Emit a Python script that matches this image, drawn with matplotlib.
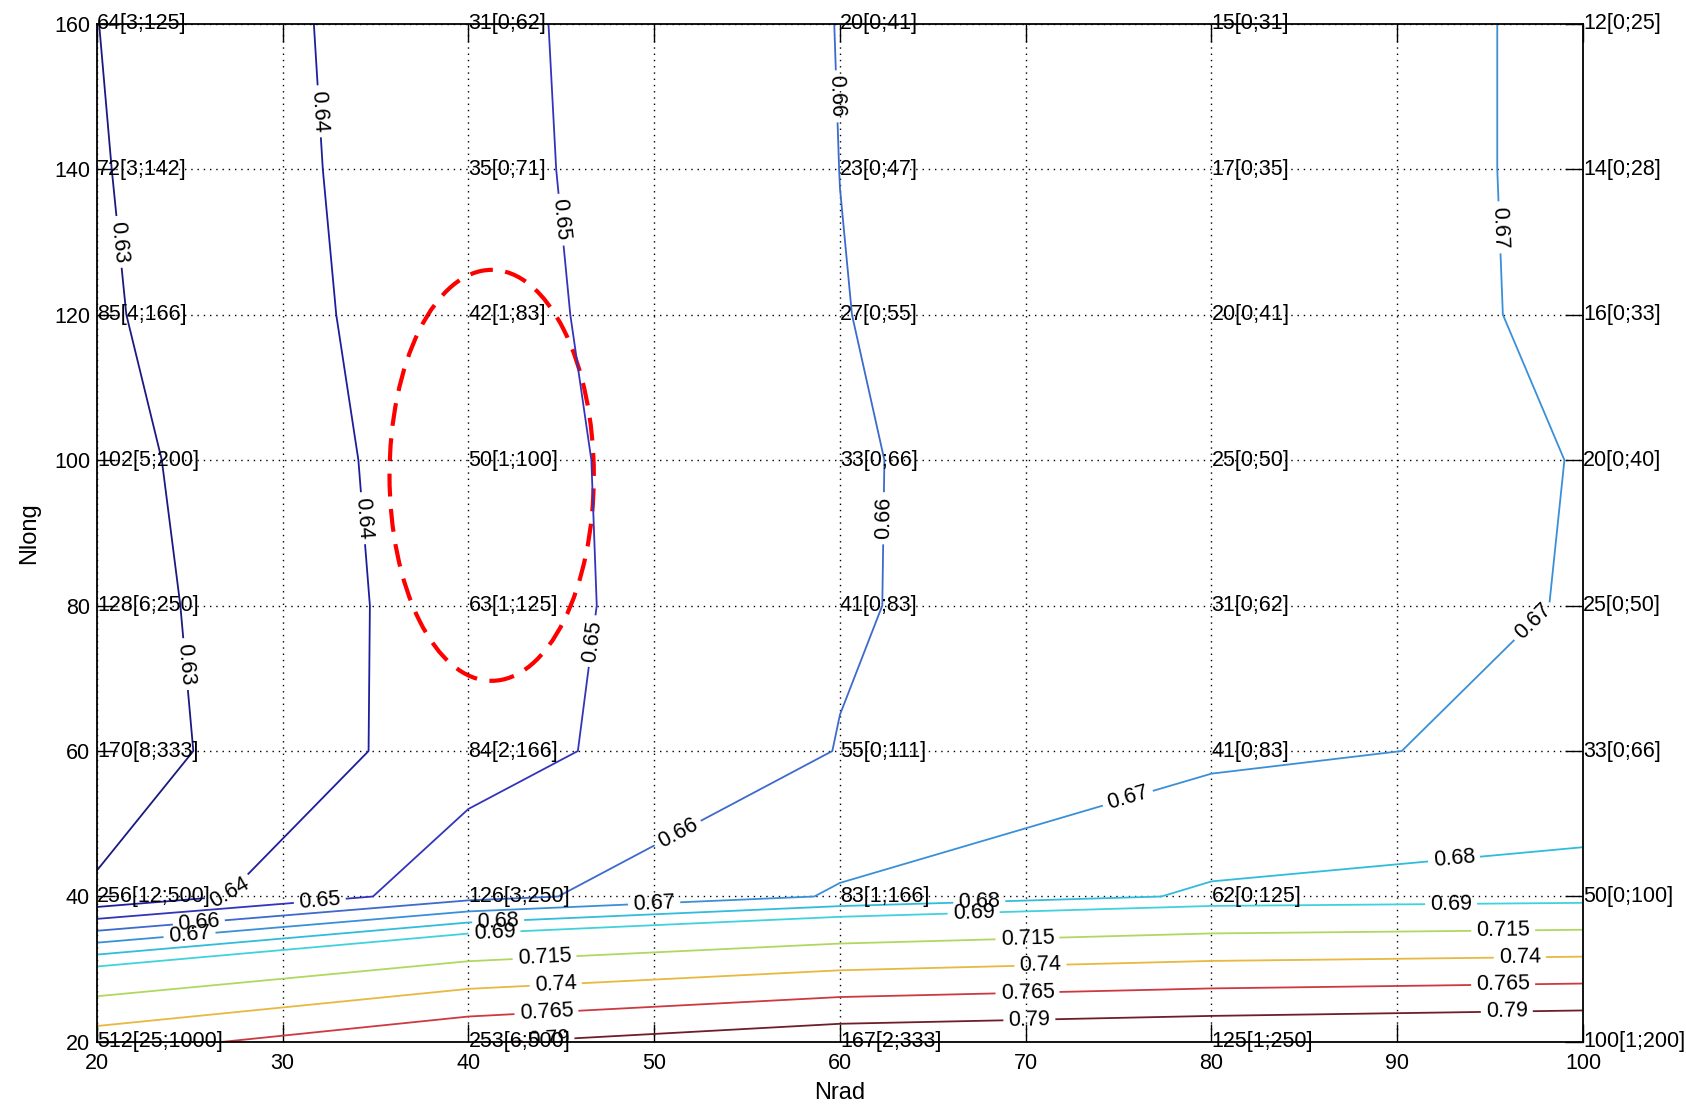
import numpy as np
import matplotlib
matplotlib.use('Agg')
import matplotlib.pyplot as plt
from matplotlib.patches import Ellipse
from matplotlib import font_manager

# ---------------- data ----------------
nrad = [20, 40, 60, 80, 100]
nlong = [20, 40, 60, 80, 100, 120, 140, 160]

# Z values at (nlong row, nrad column)
z_20 = [0.7534, 0.7880, 0.8070, 0.8137, 0.8193]
z_40 = [0.6312, 0.6565, 0.6710, 0.6814, 0.6841]
z_60 = [0.6245, 0.6457, 0.6603, 0.6679, 0.6720]
z_80 = [0.6256, 0.6452, 0.6591, 0.6670, 0.6703]
z_100 = [0.6267, 0.6456, 0.6589, 0.6681, 0.6701]
z_120 = [0.6286, 0.6463, 0.6598, 0.6660, 0.6711]
z_140 = [0.6293, 0.6469, 0.66003, 0.6660, 0.6712]
z_160 = [0.6299, 0.6472, 0.6602, 0.6660, 0.6712]

levels = [0.63, 0.64, 0.65, 0.66, 0.67, 0.68, 0.69, 0.715, 0.74, 0.765, 0.79]

# node annotations, per Nrad column, Nlong ascending (20 -> 160)
text_20 = ["512[25;1000]", "256[12;500]", "170[8;333]", "128[6;250]",
           "102[5;200]", "85[4;166]", "72[3;142]", "64[3;125]"]
text_40 = ["253[6;500]", "126[3;250]", "84[2;166]", "63[1;125]",
           "50[1;100]", "42[1;83]", "35[0;71]", "31[0;62]"]
text_60 = ["167[2;333]", "83[1;166]", "55[0;111]", "41[0;83]",
           "33[0;66]", "27[0;55]", "23[0;47]", "20[0;41]"]
text_80 = ["125[1;250]", "62[0;125]", "41[0;83]", "31[0;62]",
           "25[0;50]", "20[0;41]", "17[0;35]", "15[0;31]"]
text_100 = ["100[1;200]", "50[0;100]", "33[0;66]", "25[0;50]",
            "20[0;40]", "16[0;33]", "14[0;28]", "12[0;25]"]

# ---------------- style ----------------
level_colors = ['#1a1a80', '#1e1e9c', '#3434bb', '#3d6acc', '#3a90d8',
                '#30bcdc', '#40d2dc', '#b0d860', '#e8b840', '#cc3a40',
                '#6e1e28']

names = {f.name for f in font_manager.fontManager.ttflist}
if 'Liberation Sans Narrow' in names:
    fam = 'Liberation Sans Narrow'
    fs = 18
else:
    fam = 'Liberation Sans'
    fs = 15.5
plt.rcParams['font.family'] = [fam, 'DejaVu Sans']

fig = plt.figure(figsize=(16.86, 11.15), dpi=100)
ax = fig.add_axes([0.0575, 0.0655, 0.8814, 0.9133])

Z = np.array([z_20, z_40, z_60, z_80, z_100, z_120, z_140, z_160])
X, Y = np.meshgrid(nrad, nlong)

cs = ax.contour(X, Y, Z, levels=levels, colors=level_colors, linewidths=1.3)

label_pos = [
    (21.2, 130), (25.0, 72),
    (32.3, 148), (34.3, 92), (27.0, 40.8),
    (44.8, 133), (47.0, 75), (32.0, 39.3),
    (59.8, 150), (62.3, 92), (51.0, 50), (25.5, 36.0),
    (95.6, 132), (97.3, 77.8), (75.5, 53.5), (50.0, 38.9), (25.0, 34.2),
    (93.1, 44.0), (67.5, 39.3), (41.6, 36.5),
    (92.9, 38.9), (67.2, 37.6), (41.4, 35.0),
    (95.7, 35.3), (70.1, 33.6), (44.1, 31.5),
    (96.6, 31.6), (70.8, 29.9), (44.7, 27.9),
    (95.7, 28.0), (70.1, 26.3), (44.2, 23.9),
    (95.9, 24.2), (70.2, 22.6), (44.3, 20.7),
]
ax.clabel(cs, inline=True, fmt='%g', fontsize=fs, colors='k',
          manual=label_pos, inline_spacing=5)

ax.set_xlim(20, 100)
ax.set_ylim(20, 160)
ax.set_xticks(range(20, 101, 10))
ax.set_yticks(range(20, 161, 20))
ax.grid(True, color='k', linestyle=(0, (1, 3.5)), linewidth=1.0)
ax.tick_params(direction='in', length=13, width=1.0, top=True, right=True,
               labelsize=fs, pad=5)
ax.tick_params(axis='x', pad=8)
for sp in ax.spines.values():
    sp.set_linewidth(1.3)

for xcol, texts in zip(nrad, [text_20, text_40, text_60, text_80, text_100]):
    for yrow, s in zip(nlong, texts):
        ax.text(xcol, yrow, s, ha='left', va='center', fontsize=fs,
                clip_on=False, color='k')

ax.add_patch(Ellipse((41.25, 97.9), width=11.0, height=56.5, fill=False,
                     edgecolor='red', linestyle=(0, (5.5, 3)), linewidth=3))

ax.set_xlabel('Nrad', fontsize=fs + 1.5, labelpad=6)
ax.set_ylabel('Nlong', fontsize=fs + 1.5, labelpad=10)

fig.savefig('out.png', dpi=100)
